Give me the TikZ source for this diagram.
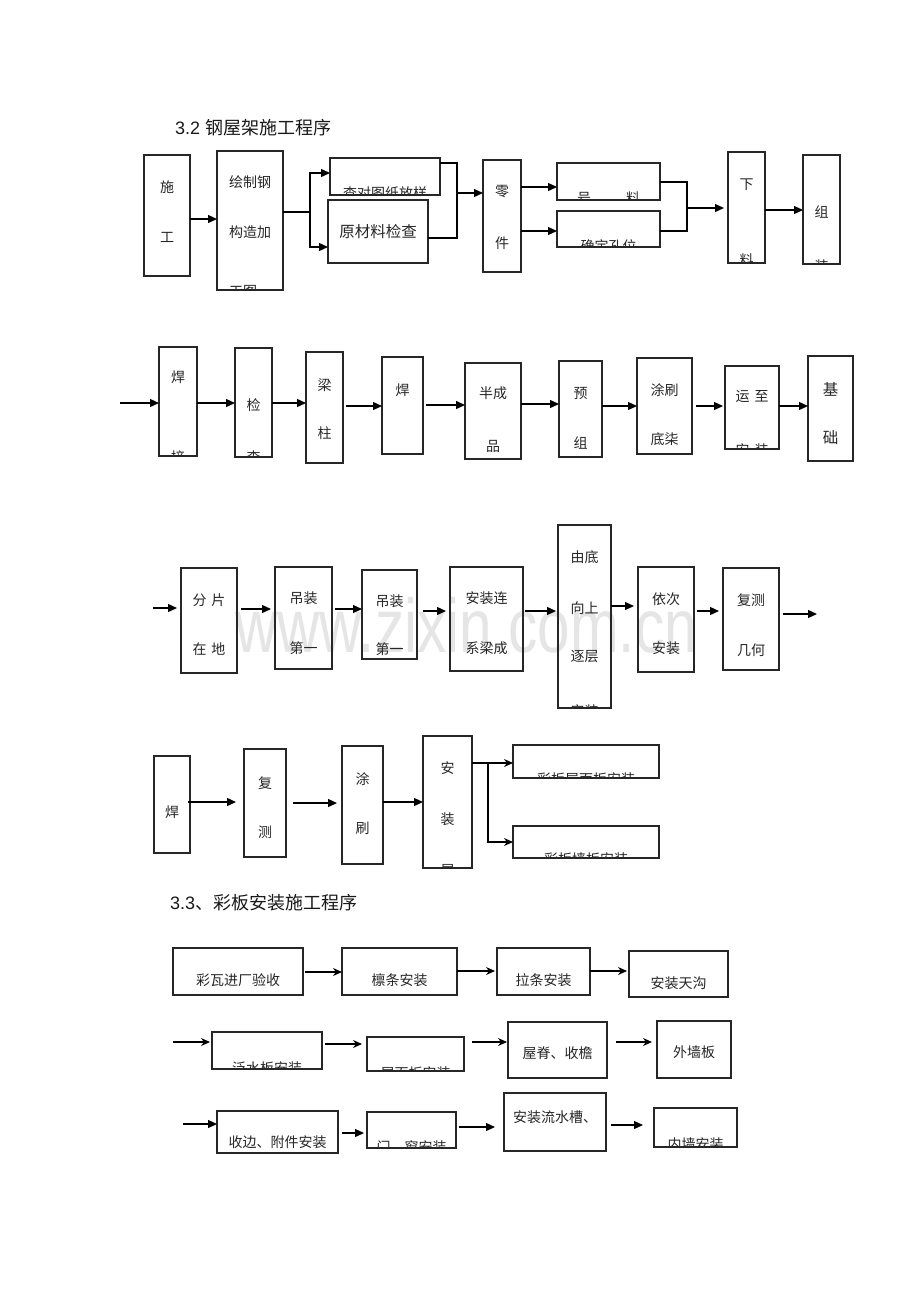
\documentclass[tikz,border=0pt]{standalone}
\usepackage{fontspec}
\setmainfont{Liberation Sans}
\newfontfamily\cjk{Noto Sans CJK SC}
\usetikzlibrary{arrows.meta,calc}
\tikzset{
  box/.style={draw=black!85, line width=1.1pt, inner sep=0pt, outer sep=0pt},
  lbl/.style={font=\cjk\fontsize{14}{16}\selectfont, text=black!85, inner sep=0pt},
  arr/.style={line width=1.3pt, -{Triangle[length=9pt,width=8pt]}},
  arrs/.style={line width=1.1pt, -{Stealth[length=9pt,width=8pt]}},
  ln/.style={line width=1.1pt},
  head/.style={anchor=west, inner sep=0pt, font=\fontsize{18}{20}\selectfont, text=black!90},
  wm/.style={anchor=base west, inner sep=0pt, text=black!10, font=\fontsize{76}{80}\selectfont}
}
\newcommand\bx[5]{\node[box, minimum width={#4-#2}, minimum height={#5-#3}] (#1) at ({(#2+#4)/2},{(#3+#5)/2}) {};}
\newcommand\tx[5][]{\begin{scope}\clip ([xshift=1pt,yshift=1.5pt]#3.south west) rectangle ([xshift=-1pt,yshift=-1pt]#3.north east);
  \node[lbl,#1] (#2) at (#3.center|-0,#4) {#5};\end{scope}}
\begin{document}
\begin{tikzpicture}[x=1pt,y=-1pt]
\useasboundingbox (0,0) rectangle (920,1302);
\fill[white] (0,0) rectangle (920,1302);
% watermark
\node[wm] (wmk) at (235,652) {\scalebox{0.77}[1]{www.zixin.com.cn}};
% headings
\node[head] (h1) at (175,128) {3.2 {\cjk 钢屋架施工程序}};
\node[head] (h2) at (170,903) {3.3{\cjk 、彩板安装施工程序}};

% ---------------- row 1
\bx{b11}{144}{155}{190}{276}
\tx{t11a}{b11}{187}{施}\tx{t11b}{b11}{237}{工}
\bx{b12}{217}{151}{283}{290}
\tx{t12a}{b12}{182}{绘制钢}\tx{t12b}{b12}{232}{构造加}\tx{t12c}{b12}{291}{工图。}
\bx{b13}{330}{158}{440}{195}
\tx{t13}{b13}{193}{查对图纸放样}
\bx{b14}{328}{200}{428}{263}
\tx[font=\cjk\fontsize{15.5}{17}\selectfont]{t14}{b14}{232}{原材料检查}
\bx{b15}{483}{160}{521}{272}
\tx{t15a}{b15}{192}{零}\tx{t15b}{b15}{243}{件}
\bx{b16}{557}{163}{660}{200}
\tx{t16}{b16}{198}{号\hspace{35pt}料}
\bx{b17}{557}{211}{660}{247}
\tx{t17}{b17}{246.5}{确定孔位}
\bx{b18}{728}{152}{765}{263}
\tx{t18a}{b18}{185}{下}\tx{t18b}{b18}{260}{料}
\bx{b19}{803}{155}{840}{264}
\tx{t19a}{b19}{212}{组}\tx{t19b}{b19}{266}{装}

\draw[arr] (b11.east|-0,219) -- (b12.west|-0,219);
\coordinate (j1) at (310,212);
\draw[ln] (b12.east|-j1) -- (j1);
\draw[arr] (j1) |- (b13.west|-0,173);
\draw[arr] (j1) |- (b14.west|-0,247);
\coordinate (j2) at (457,193);
\draw[ln] (b13.east|-0,163) -| (j2|-0,238) -- (b14.east|-0,238);
\draw[arr] (j2) -- (b15.west|-j2);
\draw[arr] (b15.east|-0,187) -- (b16.west|-0,187);
\draw[arr] (b15.east|-0,231) -- (b17.west|-0,231);
\coordinate (j3) at (687,208);
\draw[ln] (b16.east|-0,182) -| (j3|-0,231) -- (b17.east|-0,231);
\draw[arr,shorten >=4pt] (j3) -- (b18.west|-j3);
\draw[arr] (b18.east|-0,210) -- (b19.west|-0,210);

% ---------------- row 2
\coordinate (in2) at (120,403);
\bx{b21}{159}{347}{197}{456}
\tx{t21a}{b21}{377}{焊}\tx{t21b}{b21}{457}{接}
\bx{b22}{235}{348}{272}{457}
\tx{t22a}{b22}{405}{检}\tx{t22b}{b22}{457}{查}
\bx{b23}{306}{352}{343}{463}
\tx{t23a}{b23}{385}{梁}\tx{t23b}{b23}{433}{柱}
\bx{b24}{382}{357}{423}{454}
\tx{t24}{b24}{390}{焊}
\bx{b25}{465}{363}{521}{459}
\tx{t25a}{b25}{393}{半成}\tx{t25b}{b25}{446}{品}
\bx{b26}{559}{361}{602}{457}
\tx{t26a}{b26}{393}{预}\tx{t26b}{b26}{443}{组}
\bx{b27}{637}{358}{692}{454}
\tx{t27a}{b27}{390}{涂刷}\tx{t27b}{b27}{439}{底柒}
\bx{b28}{725}{366}{779}{449}
\tx{t28a}{b28}{397}{运\hspace{5pt}至}\tx{t28b}{b28}{450}{安\hspace{5pt}装}
\bx{b29}{808}{356}{853}{461}
\tx[font=\cjk\fontsize{15.5}{17}\selectfont]{t29a}{b29}{389}{基}\tx[font=\cjk\fontsize{15.5}{17}\selectfont]{t29b}{b29}{438}{础}

\draw[arr] (in2) -- (b21.west|-in2);
\draw[arr] (b21.east|-0,403) -- (b22.west|-0,403);
\draw[arr] (b22.east|-0,403) -- (b23.west|-0,403);
\draw[arr] ($(b23.east|-0,406)+(3,0)$) -- (b24.west|-0,406);
\draw[arr] ($(b24.east|-0,405)+(3,0)$) -- (b25.west|-0,405);
\draw[arr] (b25.east|-0,404) -- (b26.west|-0,404);
\draw[arr] (b26.east|-0,406) -- (b27.west|-0,406);
\draw[arr] ($(b27.east|-0,406)+(4,0)$) -- ($(b28.west|-0,406)+(-2,0)$);
\draw[arr] (b28.east|-0,406) -- (b29.west|-0,406);

% ---------------- row 3
\coordinate (in3) at (153,608);
\bx{b31}{181}{568}{237}{673}
\tx{t31a}{b31}{600}{分\hspace{5pt}片}\tx{t31b}{b31}{649}{在\hspace{5pt}地}
\bx{b32}{275}{567}{332}{669}
\tx{t32a}{b32}{598}{吊装}\tx{t32b}{b32}{648}{第一}
\bx{b33}{362}{570}{417}{659}
\tx{t33a}{b33}{601}{吊装}\tx{t33b}{b33}{649.5}{第一}
\bx{b34}{450}{567}{523}{671}
\tx{t34a}{b34}{598}{安装连}\tx{t34b}{b34}{648}{系梁成}
\bx{b35}{558}{525}{611}{708}
\tx{t35a}{b35}{557}{由底}\tx{t35b}{b35}{608}{向上}\tx{t35c}{b35}{657}{逐层}\tx{t35d}{b35}{711}{安装}
\bx{b36}{638}{567}{694}{672}
\tx{t36a}{b36}{599}{依次}\tx{t36b}{b36}{648}{安装}
\bx{b37}{723}{568}{779}{670}
\tx{t37a}{b37}{600}{复测}\tx{t37b}{b37}{650}{几何}
\coordinate (out3) at (817,614);

\draw[arr,shorten >=4pt] (in3) -- (b31.west|-in3);
\draw[arr] ($(b31.east|-0,609)+(4,0)$) -- ($(b32.west|-0,609)+(-4,0)$);
\draw[arr] ($(b32.east|-0,609)+(3,0)$) -- (b33.west|-0,609);
\draw[arr] ($(b33.east|-0,611)+(6,0)$) -- ($(b34.west|-0,611)+(-4,0)$);
\draw[arr] ($(b34.east|-0,611)+(2,0)$) -- ($(b35.west|-0,611)+(-2,0)$);
\draw[arr] (b35.east|-0,606) -- ($(b36.west|-0,606)+(-4,0)$);
\draw[arr] ($(b36.east|-0,611)+(3,0)$) -- ($(b37.west|-0,611)+(-4,0)$);
\draw[arr] ($(b37.east|-out3)+(4,0)$) -- (out3);

% ---------------- row 4
\bx{b41}{154}{756}{190}{853}
\tx{t41}{b41}{812}{焊}
\bx{b42}{244}{749}{286}{857}
\tx{t42a}{b42}{783}{复}\tx{t42b}{b42}{832}{测}
\bx{b43}{342}{746}{383}{864}
\tx{t43a}{b43}{779}{涂}\tx{t43b}{b43}{828}{刷}
\bx{b44}{423}{736}{472}{868}
\tx{t44a}{b44}{768}{安}\tx{t44b}{b44}{819}{装}\tx{t44c}{b44}{871}{屋}
\bx{b45}{513}{745}{659}{778}
\tx{t45}{b45}{779.5}{彩板屋面板安装}
\bx{b46}{513}{826}{659}{858}
\tx{t46}{b46}{859.5}{彩板墙板安装}

\draw[arr] ($(b41.east|-0,802)+(-2,0)$) -- ($(b42.west|-0,802)+(-8,0)$);
\draw[arr] ($(b42.east|-0,803)+(7,0)$) -- ($(b43.west|-0,803)+(-5,0)$);
\draw[arr] (b43.east|-0,802) -- (b44.west|-0,802);
\coordinate (j4) at (488,763);
\draw[arrs] (b44.east|-j4) -- (b45.west|-j4);
\draw[arrs] (j4) |- (b46.west|-0,842);

% ---------------- 3.3 row 1
\bx{c11}{173}{948}{303}{995}
\tx{u11}{c11}{980}{彩瓦进厂验收}
\bx{c12}{342}{948}{457}{995}
\tx{u12}{c12}{980}{檩条安装}
\bx{c13}{497}{948}{590}{995}
\tx{u13}{c13}{980}{拉条安装}
\bx{c14}{629}{951}{728}{997}
\tx{u14}{c14}{983}{安装天沟}
\draw[arrs] ($(c11.east|-0,972)+(2,0)$) -- (c12.west|-0,972);
\draw[arrs] (c12.east|-0,971) -- ($(c13.west|-0,971)+(-2,0)$);
\draw[arrs] (c13.east|-0,971) -- ($(c14.west|-0,971)+(-2,0)$);

% ---------------- 3.3 row 2
\coordinate (in5) at (173,1042);
\bx{c21}{212}{1032}{322}{1069}
\tx{u21}{c21}{1068}{泛水板安装}
\bx{c22}{367}{1037}{464}{1071}
\tx{u22}{c22}{1073}{屋面板安装}
\bx{c23}{508}{1022}{607}{1078}
\tx{u23}{c23}{1053}{屋脊、收檐}
\bx{c24}{657}{1021}{731}{1078}
\tx{u24}{c24}{1052}{外墙板}
\draw[arrs] (in5) -- ($(c21.west|-in5)+(-2,0)$);
\draw[arrs] ($(c21.east|-0,1044)+(3,0)$) -- ($(c22.west|-0,1044)+(-5,0)$);
\draw[arrs] ($(c22.east|-0,1042)+(8,0)$) -- ($(c23.west|-0,1042)+(-1,0)$);
\draw[arrs] ($(c23.east|-0,1042)+(9,0)$) -- ($(c24.west|-0,1042)+(-5,0)$);

% ---------------- 3.3 row 3
\coordinate (in6) at (183,1124);
\bx{c31}{217}{1111}{338}{1153}
\tx{u31}{c31}{1142}{收边、附件安装}
\bx{c32}{367}{1112}{456}{1148}
\tx{u32}{c32}{1147}{门、窗安装}
\bx{c33}{504}{1093}{606}{1151}
\tx{u33}{c33}{1117}{安装流水槽、}
\bx{c34}{654}{1108}{737}{1147}
\tx{u34}{c34}{1144}{内墙安装}
\draw[arr] (in6) -- (c31.west|-in6);
\draw[arr] ($(c31.east|-0,1133)+(4,0)$) -- ($(c32.west|-0,1133)+(-3,0)$);
\draw[arr] ($(c32.east|-0,1127)+(3,0)$) -- ($(c33.west|-0,1127)+(-9,0)$);
\draw[arr] ($(c33.east|-0,1125)+(5,0)$) -- ($(c34.west|-0,1125)+(-11,0)$);
\end{tikzpicture}
\end{document}
